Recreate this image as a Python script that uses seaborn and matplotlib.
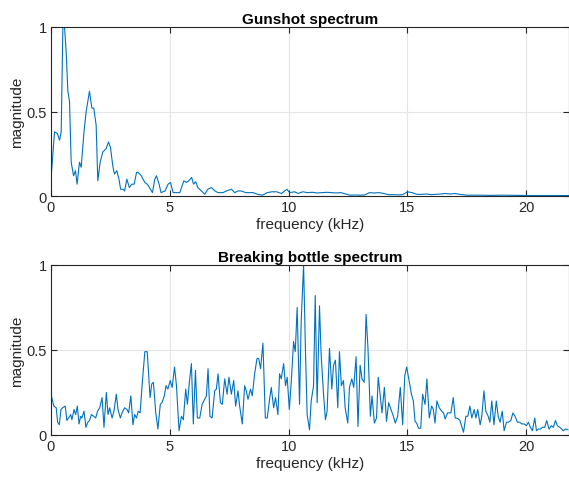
import numpy as np
import pandas as pd
import matplotlib
matplotlib.use("Agg")
import matplotlib.pyplot as plt
import seaborn as sns

# gunshot spectrum (frequency in kHz, normalised magnitude)
gun_freq = [0.0, 0.15, 0.27, 0.36, 0.43, 0.5, 0.57, 0.64, 0.71, 0.78,
            0.85, 0.95, 1.03, 1.1, 1.2, 1.27, 1.39, 1.48, 1.62, 1.72,
            1.8, 1.9, 1.97, 2.07, 2.18, 2.32, 2.42, 2.5, 2.6, 2.67,
            2.77, 2.86, 2.93, 3.03, 3.1, 3.19, 3.3, 3.4, 3.5, 3.6,
            3.67, 3.8, 3.95, 4.05, 4.1, 4.27, 4.37, 4.44, 4.55, 4.63,
            4.8, 4.93, 5.03, 5.14, 5.28, 5.42, 5.59, 5.7, 5.8, 5.92,
            6.0, 6.09, 6.18, 6.33, 6.47, 6.6, 6.75, 6.9, 7.03, 7.24,
            7.38, 7.6, 7.73, 7.87, 8.0, 8.2, 8.5, 8.7, 8.9, 9.1,
            9.3, 9.5, 9.7, 9.93, 10.04, 10.25, 10.4, 10.6, 10.8, 11.0,
            11.2, 11.4, 11.6, 11.8, 12.0, 12.2, 12.4, 12.6, 12.8, 13.0,
            13.2, 13.4, 13.6, 13.8, 14.0, 14.2, 14.4, 14.6, 14.8, 15.0,
            15.2, 15.4, 15.6, 15.8, 16.0, 16.2, 16.4, 16.6, 16.8, 17.0,
            17.2, 17.5, 18.0, 18.5, 19.0, 19.5, 20.0, 20.5, 21.0, 21.5,
            22.05]
gun_mag = [0.10, 0.38, 0.37, 0.33, 0.38, 1.0, 1.0, 0.85, 0.62, 0.56,
           0.20, 0.12, 0.15, 0.07, 0.20, 0.17, 0.38, 0.50, 0.62, 0.52,
           0.52, 0.42, 0.09, 0.20, 0.26, 0.28, 0.32, 0.29, 0.18, 0.13,
           0.15, 0.10, 0.04, 0.04, 0.03, 0.10, 0.05, 0.07, 0.07, 0.14,
           0.14, 0.12, 0.08, 0.07, 0.06, 0.02, 0.10, 0.12, 0.07, 0.02,
           0.03, 0.07, 0.08, 0.02, 0.02, 0.02, 0.09, 0.08, 0.09, 0.11,
           0.07, 0.085, 0.05, 0.03, 0.01, 0.04, 0.05, 0.03, 0.02, 0.02,
           0.03, 0.04, 0.02, 0.03, 0.03, 0.02, 0.02, 0.01, 0.005, 0.02,
           0.025, 0.025, 0.015, 0.04, 0.02, 0.025, 0.015, 0.025, 0.02, 0.022,
           0.018, 0.02, 0.022, 0.02, 0.018, 0.02, 0.012, 0.005, 0.006, 0.005,
           0.006, 0.02, 0.018, 0.02, 0.015, 0.008, 0.008, 0.007, 0.008, 0.025,
           0.02, 0.01, 0.01, 0.012, 0.008, 0.01, 0.012, 0.015, 0.012, 0.015,
           0.01, 0.005, 0.005, 0.004, 0.005, 0.004, 0.003, 0.003, 0.003, 0.003,
           0.003]

# breaking bottle spectrum
bottle_freq = [0.0, 0.12, 0.22, 0.28, 0.35, 0.42, 0.49, 0.6, 0.67, 0.74,
               0.83, 0.88, 0.97, 1.04, 1.11, 1.18, 1.25, 1.3, 1.39, 1.47,
               1.55, 1.62, 1.7, 1.8, 1.88, 1.96, 2.05, 2.15, 2.23, 2.33,
               2.4, 2.47, 2.57, 2.65, 2.75, 2.82, 2.92, 2.99, 3.1, 3.2,
               3.27, 3.36, 3.45, 3.52, 3.6, 3.67, 3.75, 3.85, 3.95, 4.05,
               4.17, 4.24, 4.31, 4.41, 4.5, 4.6, 4.67, 4.77, 4.84, 4.92,
               5.02, 5.1, 5.2, 5.28, 5.39, 5.49, 5.57, 5.67, 5.74, 5.83,
               5.91, 5.99, 6.08, 6.16, 6.26, 6.36, 6.47, 6.54, 6.61, 6.69,
               6.78, 6.89, 6.96, 7.03, 7.13, 7.21, 7.31, 7.41, 7.49, 7.59,
               7.69, 7.77, 7.87, 7.94, 8.05, 8.15, 8.22, 8.29, 8.4, 8.47,
               8.57, 8.67, 8.74, 8.82, 8.92, 9.02, 9.1, 9.2, 9.27, 9.37,
               9.45, 9.55, 9.62, 9.69, 9.79, 9.87, 9.94, 10.03, 10.11, 10.21,
               10.28, 10.36, 10.46, 10.53, 10.63, 10.71, 10.78, 10.88, 10.95, 11.05,
               11.12, 11.2, 11.3, 11.37, 11.47, 11.55, 11.62, 11.72, 11.82, 11.89,
               11.97, 12.07, 12.14, 12.22, 12.31, 12.38, 12.49, 12.56, 12.66, 12.74,
               12.84, 12.92, 13.01, 13.09, 13.18, 13.26, 13.34, 13.44, 13.51, 13.61,
               13.7, 13.77, 13.85, 13.93, 14.03, 14.12, 14.21, 14.31, 14.41, 14.49,
               14.59, 14.7, 14.8, 14.89, 14.97, 15.08, 15.17, 15.25, 15.32, 15.39,
               15.47, 15.56, 15.64, 15.74, 15.82, 15.92, 16.02, 16.09, 16.16, 16.24,
               16.34, 16.44, 16.52, 16.59, 16.69, 16.83, 16.93, 17.01, 17.11, 17.21,
               17.36, 17.46, 17.54, 17.63, 17.71, 17.81, 17.88, 17.96, 18.06, 18.13,
               18.22, 18.3, 18.4, 18.47, 18.55, 18.64, 18.74, 18.82, 18.9, 18.99,
               19.07, 19.17, 19.25, 19.35, 19.44, 19.53, 19.63, 19.73, 19.81, 19.91,
               20.01, 20.09, 20.18, 20.26, 20.36, 20.43, 20.51, 20.6, 20.68, 20.78,
               20.86, 20.96, 21.06, 21.14, 21.23, 21.31, 21.41, 21.49, 21.56, 21.66,
               21.76]
bottle_mag = [0.24, 0.17, 0.16, 0.075, 0.06, 0.15, 0.16, 0.17, 0.085, 0.10,
              0.12, 0.09, 0.15, 0.12, 0.17, 0.065, 0.11, 0.10, 0.14, 0.045,
              0.075, 0.085, 0.12, 0.11, 0.10, 0.14, 0.16, 0.22, 0.045, 0.25,
              0.12, 0.16, 0.10, 0.14, 0.24, 0.15, 0.10, 0.13, 0.16, 0.15,
              0.13, 0.23, 0.06, 0.12, 0.10, 0.14, 0.13, 0.32, 0.49, 0.49,
              0.22, 0.30, 0.31, 0.13, 0.035, 0.18, 0.19, 0.23, 0.29, 0.27,
              0.32, 0.28, 0.40, 0.29, 0.025, 0.11, 0.09, 0.27, 0.18, 0.32,
              0.42, 0.065, 0.38, 0.10, 0.10, 0.18, 0.21, 0.23, 0.39, 0.11,
              0.10, 0.26, 0.27, 0.36, 0.19, 0.18, 0.33, 0.24, 0.34, 0.24,
              0.32, 0.17, 0.26, 0.17, 0.065, 0.29, 0.26, 0.21, 0.27, 0.23,
              0.36, 0.45, 0.45, 0.39, 0.54, 0.10, 0.10, 0.21, 0.28, 0.16,
              0.22, 0.12, 0.36, 0.33, 0.42, 0.29, 0.34, 0.15, 0.31, 0.55,
              0.49, 0.75, 0.18, 0.67, 1.0, 0.49, 0.12, 0.03, 0.20, 0.29,
              0.82, 0.19, 0.76, 0.47, 0.24, 0.09, 0.14, 0.51, 0.27, 0.41,
              0.44, 0.16, 0.49, 0.29, 0.32, 0.16, 0.07, 0.28, 0.33, 0.28,
              0.46, 0.05, 0.41, 0.33, 0.31, 0.71, 0.51, 0.11, 0.23, 0.07,
              0.10, 0.34, 0.24, 0.13, 0.28, 0.08, 0.19, 0.15, 0.11, 0.07,
              0.11, 0.28, 0.06, 0.35, 0.40, 0.31, 0.24, 0.20, 0.08, 0.07,
              0.04, 0.04, 0.24, 0.18, 0.33, 0.10, 0.17, 0.15, 0.07, 0.20,
              0.16, 0.14, 0.13, 0.094, 0.13, 0.13, 0.22, 0.10, 0.098, 0.085,
              0.016, 0.11, 0.11, 0.17, 0.10, 0.15, 0.10, 0.15, 0.06, 0.11,
              0.26, 0.14, 0.11, 0.075, 0.20, 0.06, 0.20, 0.11, 0.075, 0.14,
              0.025, 0.075, 0.075, 0.085, 0.13, 0.11, 0.075, 0.075, 0.065, 0.065,
              0.055, 0.075, 0.045, 0.025, 0.10, 0.025, 0.035, 0.035, 0.045, 0.045,
              0.085, 0.035, 0.055, 0.045, 0.085, 0.055, 0.045, 0.035, 0.025, 0.035,
              0.03]

titles = ["Gunshot spectrum", "Breaking bottle spectrum"]

sns.set_style("ticks")
plt.rcParams['font.family'] = ['Liberation Sans', 'DejaVu Sans']
plt.rcParams['xtick.direction'] = 'in'
plt.rcParams['ytick.direction'] = 'in'

line_color = "#0072BD"
box_color = "#262626"

fig = plt.figure(figsize=(5.69, 4.81), dpi=100)
ax1 = fig.add_axes([0.0896, 0.5904, 0.9104, 0.3514])
ax2 = fig.add_axes([0.0896, 0.0936, 0.9104, 0.3534])

data = [pd.DataFrame({"freq": gun_freq, "mag": gun_mag}),
        pd.DataFrame({"freq": bottle_freq, "mag": bottle_mag})]

for ax, df, title in zip([ax1, ax2], data, titles):
    sns.lineplot(x="freq", y="mag", data=df, ax=ax, color=line_color,
                 linewidth=0.8, estimator=None, sort=False)
    ax.set_xlim(0, 21.8)
    ax.set_ylim(0, 1)
    ax.set_xticks([0, 5, 10, 15, 20])
    ax.set_yticks([0, 0.5, 1])
    ax.set_yticklabels(["0", "0.5", "1"])
    ax.grid(True, color="#e5e5e5", linewidth=0.8)
    ax.set_axisbelow(True)
    ax.tick_params(axis="both", which="both", top=True, right=True,
                   labelsize=10.5, length=4, width=0.8, colors=box_color,
                   labelcolor=box_color, pad=3)
    for s in ax.spines.values():
        s.set_color(box_color)
        s.set_linewidth(0.8)
    ax.set_title(title, fontsize=11, fontweight="bold", pad=3, color="black")
    ax.set_xlabel("frequency (kHz)", fontsize=11, color=box_color, labelpad=2)
    ax.set_ylabel("magnitude", fontsize=11, color=box_color, labelpad=2)

fig.savefig("out.png", dpi=100)
